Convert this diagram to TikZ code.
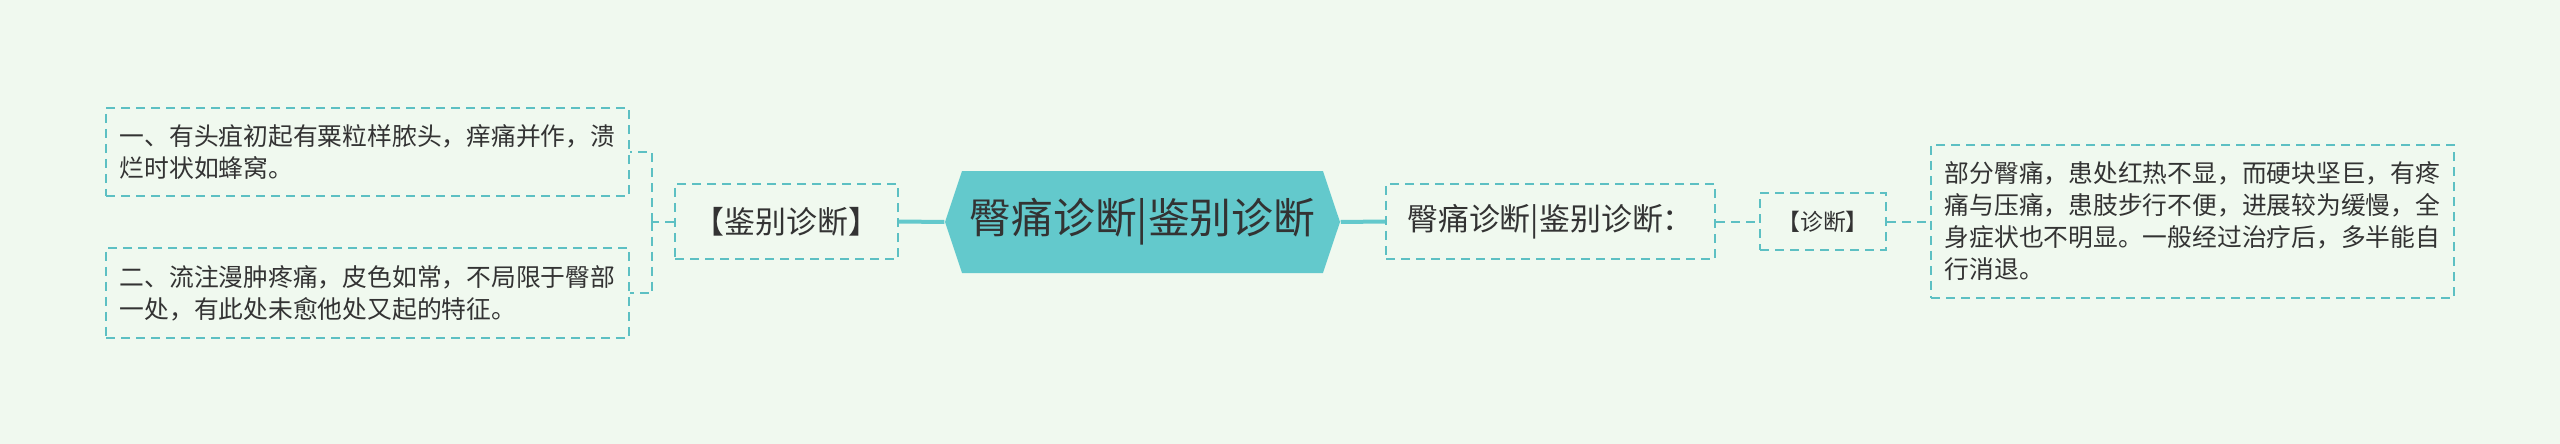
\documentclass[tikz,border=0pt]{standalone}
\usepackage{fontspec}
\setmainfont{Noto Sans CJK SC}
\usepackage{tikz}
\usetikzlibrary{shapes.symbols}
\definecolor{bgcol}{HTML}{F0F9EF}
\definecolor{maptl}{HTML}{63C9CC}
\definecolor{linecol}{HTML}{5DC0C3}
\definecolor{txtcol}{HTML}{333333}
\tikzset{
  rootnode/.style={signal, signal to=east and west, signal pointer angle=143,
    fill=maptl, minimum width=39.5mm, minimum height=10.2mm, inner sep=0pt,
    text=txtcol, font=\fontsize{11.9pt}{14pt}\selectfont},
  dashbox/.style={draw=linecol, line width=0.2mm, dash pattern=on 0.9mm off 0.6mm,
    inner sep=0pt, text=txtcol},
  midbox/.style={dashbox, font=\fontsize{8.8pt}{10pt}\selectfont},
  tagbox/.style={dashbox, font=\fontsize{6.5pt}{8pt}\selectfont},
  leafbox/.style={dashbox, align=left, font=\fontsize{7.05pt}{9.1pt}\selectfont},
  thickline/.style={draw=maptl, line width=0.4mm},
  thinline/.style={draw=linecol, line width=0.2mm, dash pattern=on 0.9mm off 0.6mm}
}
\begin{document}
\begin{tikzpicture}[x=0.1mm,y=-0.1mm]
\fill [bgcol] (0,0) rectangle (2560,444);
\useasboundingbox (0,0) rectangle (2560,444);
\node [rootnode] (root) at (1142.5,222) {臀痛诊断|鉴别诊断};
\node [midbox, minimum width=22.3mm, minimum height=7.5mm] (jbzd) at (786.5,221.5) {【鉴别诊断】};
\node [leafbox, minimum width=52.3mm, minimum height=8.8mm] (lfa) at (367.5,152)
  {一、有头疽初起有粟粒样脓头，痒痛并作，溃\\烂时状如蜂窝。};
\node [leafbox, minimum width=52.3mm, minimum height=9mm] (lfb) at (367.5,293)
  {二、流注漫肿疼痛，皮色如常，不局限于臀部\\一处，有此处未愈他处又起的特征。};
\node [midbox, minimum width=32.9mm, minimum height=7.5mm] (tyzd) at (1550.5,221.5) {臀痛诊断|鉴别诊断：};
\node [tagbox, minimum width=12.6mm, minimum height=5.7mm] (zd) at (1823,221.5) {【诊断】};
\node [leafbox, minimum width=52.3mm, minimum height=15.3mm] (desc) at (2192.5,221.5)
  {部分臀痛，患处红热不显，而硬块坚巨，有疼\\痛与压痛，患肢步行不便，进展较为缓慢，全\\身症状也不明显。一般经过治疗后，多半能自\\行消退。};
\coordinate (fork) at (652,221.5);
\draw [thickline] (jbzd.east) -- (root.west);
\draw [thickline] (root.east) -- (tyzd.west);
\draw [thinline] (tyzd.east) -- (zd.west);
\draw [thinline] (zd.east) -- (desc.west);
\draw [thinline] (jbzd.west) -- (fork);
\draw [thinline] (fork) |- (lfa.east);
\draw [thinline] (fork) |- (lfb.east);
\end{tikzpicture}
\end{document}
